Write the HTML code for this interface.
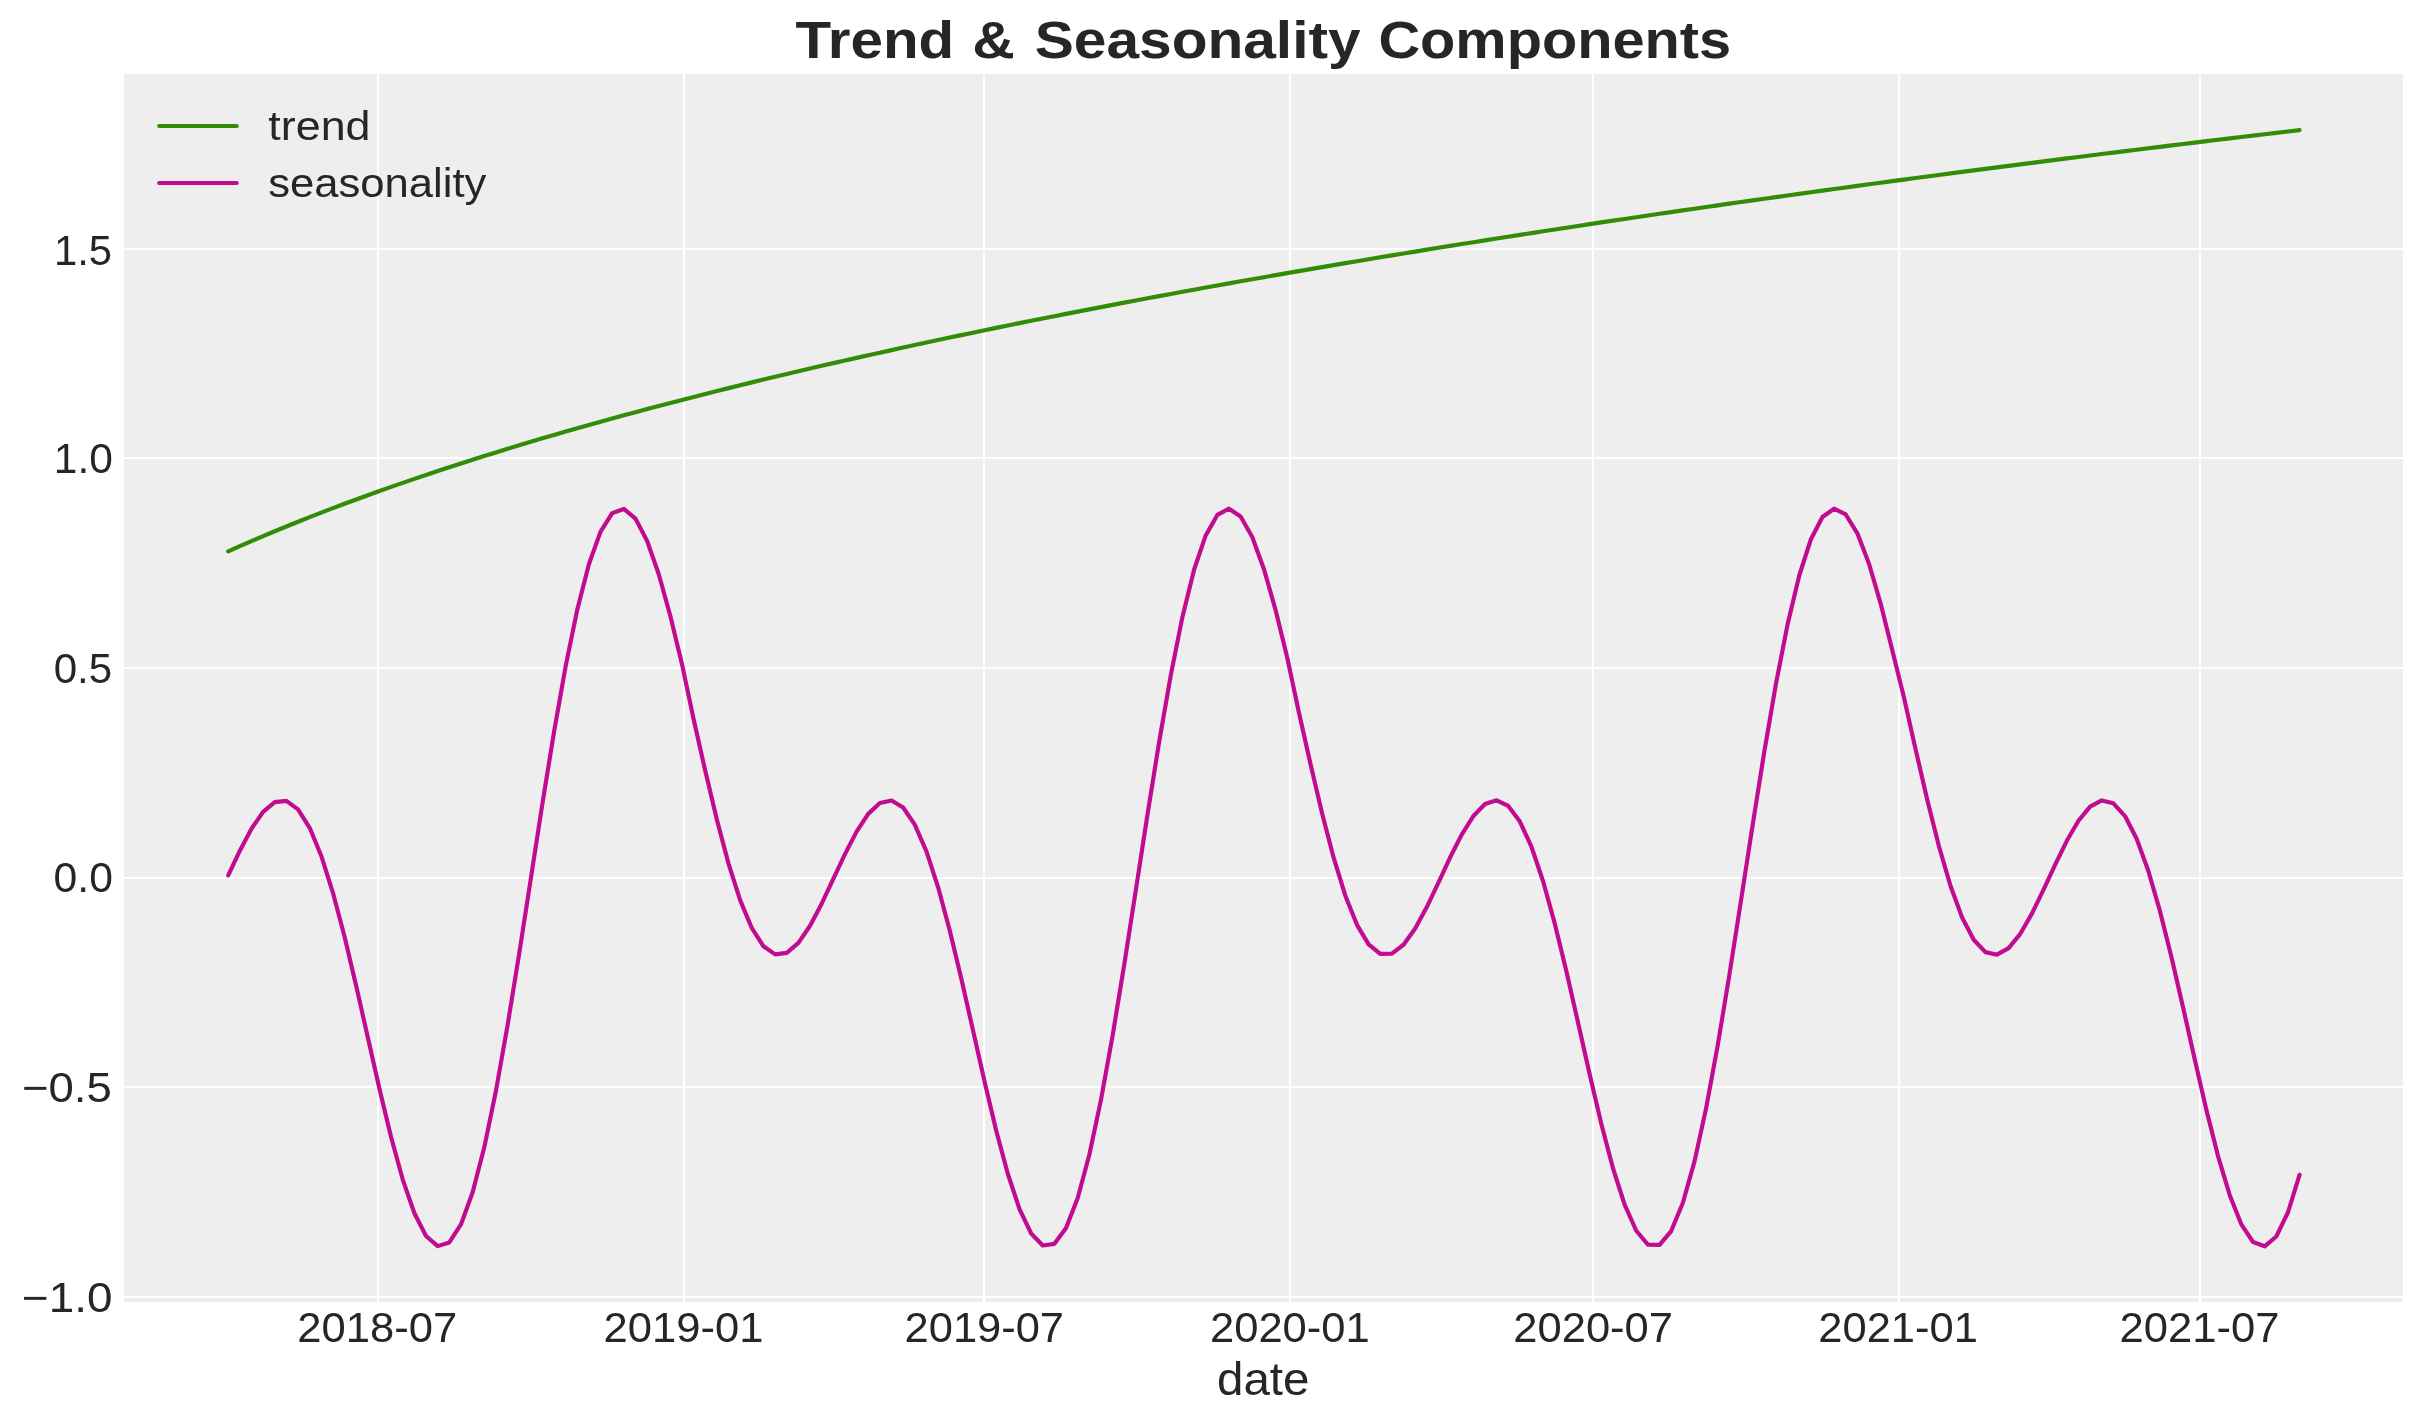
<!DOCTYPE html>
<html><head><meta charset="utf-8"><title>Trend &amp; Seasonality Components</title>
<style>
html,body{margin:0;padding:0;background:#fff;width:2423px;height:1423px;overflow:hidden}
svg{display:block}
text{will-change:transform}
text{font-family:"Liberation Sans",sans-serif;fill:#262626}
</style></head><body>
<svg width="2423" height="1423" viewBox="0 0 2423 1423">
<rect x="0" y="0" width="2423" height="1423" fill="#ffffff"/>
<rect x="124" y="74" width="2279" height="1228" fill="#eeeeee"/>
<g fill="#ffffff"><rect x="377" y="74" width="2" height="1228"/><rect x="683" y="74" width="2" height="1228"/><rect x="983" y="74" width="2" height="1228"/><rect x="1289" y="74" width="2" height="1228"/><rect x="1592" y="74" width="2" height="1228"/><rect x="1898" y="74" width="2" height="1228"/><rect x="2199" y="74" width="2" height="1228"/><rect x="124" y="248" width="2279" height="2"/><rect x="124" y="457" width="2279" height="2"/><rect x="124" y="667" width="2279" height="2"/><rect x="124" y="877" width="2279" height="2"/><rect x="124" y="1086" width="2279" height="2"/><rect x="124" y="1296" width="2279" height="2"/></g>
<polyline points="228.21,551.35 239.85,546.16 251.48,541.09 263.12,536.11 274.76,531.23 286.39,526.45 298.03,521.75 309.67,517.13 321.30,512.59 332.94,508.14 344.58,503.75 356.21,499.44 367.85,495.19 379.49,491.02 391.13,486.90 402.76,482.85 414.40,478.86 426.04,474.93 437.67,471.05 449.31,467.22 460.95,463.45 472.58,459.73 484.22,456.05 495.86,452.43 507.49,448.85 519.13,445.32 530.77,441.82 542.40,438.37 554.04,434.97 565.68,431.60 577.31,428.27 588.95,424.98 600.59,421.72 612.22,418.51 623.86,415.32 635.50,412.17 647.14,409.06 658.77,405.97 670.41,402.92 682.05,399.90 693.68,396.91 705.32,393.95 716.96,391.02 728.59,388.11 740.23,385.24 751.87,382.39 763.50,379.56 775.14,376.77 786.78,373.99 798.41,371.25 810.05,368.52 821.69,365.82 833.32,363.15 844.96,360.50 856.60,357.86 868.24,355.26 879.87,352.67 891.51,350.10 903.15,347.56 914.78,345.03 926.42,342.53 938.06,340.04 949.69,337.57 961.33,335.13 972.97,332.70 984.60,330.29 996.24,327.89 1007.88,325.52 1019.51,323.16 1031.15,320.82 1042.79,318.49 1054.42,316.19 1066.06,313.89 1077.70,311.62 1089.33,309.36 1100.97,307.11 1112.61,304.88 1124.25,302.67 1135.88,300.47 1147.52,298.28 1159.16,296.11 1170.79,293.96 1182.43,291.81 1194.07,289.68 1205.70,287.57 1217.34,285.46 1228.98,283.37 1240.61,281.30 1252.25,279.23 1263.89,277.18 1275.52,275.14 1287.16,273.11 1298.80,271.10 1310.43,269.09 1322.07,267.10 1333.71,265.12 1345.34,263.15 1356.98,261.19 1368.62,259.25 1380.26,257.31 1391.89,255.39 1403.53,253.47 1415.17,251.57 1426.80,249.67 1438.44,247.79 1450.08,245.92 1461.71,244.05 1473.35,242.20 1484.99,240.35 1496.62,238.52 1508.26,236.69 1519.90,234.88 1531.53,233.07 1543.17,231.28 1554.81,229.49 1566.44,227.71 1578.08,225.94 1589.72,224.18 1601.35,222.42 1612.99,220.68 1624.63,218.94 1636.27,217.22 1647.90,215.50 1659.54,213.78 1671.18,212.08 1682.81,210.39 1694.45,208.70 1706.09,207.02 1717.72,205.35 1729.36,203.68 1741.00,202.03 1752.63,200.38 1764.27,198.74 1775.91,197.10 1787.54,195.48 1799.18,193.86 1810.82,192.24 1822.45,190.64 1834.09,189.04 1845.73,187.45 1857.36,185.86 1869.00,184.28 1880.64,182.71 1892.28,181.15 1903.91,179.59 1915.55,178.04 1927.19,176.49 1938.82,174.95 1950.46,173.42 1962.10,171.89 1973.73,170.37 1985.37,168.86 1997.01,167.35 2008.64,165.85 2020.28,164.35 2031.92,162.86 2043.55,161.38 2055.19,159.90 2066.83,158.43 2078.46,156.96 2090.10,155.50 2101.74,154.04 2113.37,152.59 2125.01,151.15 2136.65,149.71 2148.29,148.27 2159.92,146.84 2171.56,145.42 2183.20,144.00 2194.83,142.59 2206.47,141.18 2218.11,139.78 2229.74,138.38 2241.38,136.99 2253.02,135.60 2264.65,134.22 2276.29,132.84 2287.93,131.47 2299.56,130.10" fill="none" stroke="#328c06" stroke-width="4.17" stroke-linejoin="round" stroke-linecap="round"/>
<polyline points="228.21,875.35 239.85,850.67 251.48,828.74 263.12,811.87 274.76,802.07 286.39,800.91 298.03,809.37 309.67,827.81 321.30,855.95 332.94,892.81 344.58,936.84 356.21,985.93 367.85,1037.58 379.49,1089.00 391.13,1137.28 402.76,1179.57 414.40,1213.24 426.04,1236.01 437.67,1246.13 449.31,1242.44 460.95,1224.49 472.58,1192.54 484.22,1147.57 495.86,1091.25 507.49,1025.83 519.13,954.04 530.77,878.95 542.40,803.80 554.04,731.84 565.68,666.14 577.31,609.45 588.95,564.05 600.59,531.61 612.22,513.15 623.86,508.96 635.50,518.60 647.14,540.95 658.77,574.26 670.41,616.29 682.05,664.40 693.68,719.47 705.32,771.08 716.96,820.03 728.59,863.84 740.23,900.42 751.87,928.22 763.50,946.31 775.14,954.41 786.78,952.92 798.41,942.84 810.05,925.75 821.69,903.68 833.32,878.95 844.96,854.09 856.60,831.61 868.24,813.88 879.87,802.97 891.51,800.50 903.15,807.55 914.78,824.57 926.42,851.36 938.06,887.06 949.69,930.19 961.33,978.70 972.97,1030.15 984.60,1081.78 996.24,1130.69 1007.88,1174.00 1019.51,1209.05 1031.15,1233.50 1042.79,1245.51 1054.42,1243.84 1066.06,1227.93 1077.70,1197.93 1089.33,1154.74 1100.97,1099.91 1112.61,1035.64 1124.25,964.57 1135.88,889.76 1147.52,814.42 1159.16,741.81 1170.79,675.04 1182.43,616.91 1194.07,569.77 1205.70,535.41 1217.34,514.92 1228.98,508.69 1240.61,516.41 1252.25,537.04 1263.89,568.91 1275.52,609.85 1287.16,657.26 1298.80,712.05 1310.43,763.81 1322.07,813.30 1333.71,857.98 1345.34,895.70 1356.98,924.83 1368.62,944.34 1380.26,953.86 1391.89,953.69 1403.53,944.75 1415.17,928.55 1426.80,907.05 1438.44,882.55 1450.08,857.55 1461.71,834.58 1473.35,816.04 1484.99,804.05 1496.62,800.29 1508.26,805.93 1519.90,821.53 1531.53,846.96 1543.17,881.47 1554.81,923.64 1566.44,971.53 1578.08,1022.72 1589.72,1074.50 1601.35,1123.98 1612.99,1168.26 1624.63,1204.64 1636.27,1230.73 1647.90,1244.61 1659.54,1244.94 1671.18,1231.07 1682.81,1203.05 1694.45,1161.66 1706.09,1108.38 1717.72,1045.30 1729.36,975.03 1741.00,900.55 1752.63,825.09 1764.27,751.89 1775.91,684.11 1787.54,624.59 1799.18,575.76 1810.82,539.49 1822.45,516.97 1834.09,508.71 1845.73,514.49 1857.36,533.36 1869.00,563.75 1880.64,603.54 1892.28,650.20 1903.91,697.23 1915.55,749.13 1927.19,799.55 1938.82,845.84 1950.46,885.74 1962.10,917.45 1973.73,939.78 1985.37,952.15 1997.01,954.68 2008.64,948.12 2020.28,933.82 2031.92,913.61 2043.55,889.71 2055.19,864.60 2066.83,840.80 2078.46,820.76 2090.10,806.70 2101.74,800.44 2113.37,803.32 2125.01,816.05 2136.65,838.72 2148.29,870.75 2159.92,910.92 2171.56,957.40 2183.20,1007.91 2194.83,1059.82 2206.47,1110.24 2218.11,1156.30 2229.74,1195.20 2241.38,1224.45 2253.02,1241.98 2264.65,1246.28 2276.29,1236.50 2287.93,1212.47 2299.56,1174.78" fill="none" stroke="#c10c90" stroke-width="4.17" stroke-linejoin="round" stroke-linecap="round"/>
<line x1="159.2" y1="126.0" x2="236.7" y2="126.0" stroke="#328c06" stroke-width="4.17" stroke-linecap="round"/>
<line x1="159.2" y1="183.0" x2="236.7" y2="183.0" stroke="#c10c90" stroke-width="4.17" stroke-linecap="round"/>
<text x="795.48" y="57.80" font-size="51.85" font-weight="bold" textLength="158.75" lengthAdjust="spacingAndGlyphs">Trend</text>
<text x="972.18" y="57.80" font-size="51.85" font-weight="bold" textLength="42.64" lengthAdjust="spacingAndGlyphs">&amp;</text>
<text x="1034.76" y="57.80" font-size="51.85" font-weight="bold" textLength="325.79" lengthAdjust="spacingAndGlyphs">Seasonality</text>
<text x="1378.43" y="57.80" font-size="51.85" font-weight="bold" textLength="352.72" lengthAdjust="spacingAndGlyphs">Components</text>
<text x="268.39" y="139.87" font-size="41.4" textLength="102.13" lengthAdjust="spacingAndGlyphs">trend</text>
<text x="268.16" y="197.10" font-size="41.4" textLength="218.25" lengthAdjust="spacingAndGlyphs">seasonality</text>
<text x="53.90" y="264.70" font-size="41.7" textLength="58.15" lengthAdjust="spacingAndGlyphs">1.5</text>
<text x="53.85" y="472.80" font-size="41.7" textLength="59.09" lengthAdjust="spacingAndGlyphs">1.0</text>
<text x="53.66" y="682.80" font-size="41.7" textLength="58.48" lengthAdjust="spacingAndGlyphs">0.5</text>
<text x="53.60" y="891.75" font-size="41.7" textLength="59.25" lengthAdjust="spacingAndGlyphs">0.0</text>
<text x="21.93" y="1101.76" font-size="41.7" textLength="89.81" lengthAdjust="spacingAndGlyphs">−0.5</text>
<text x="21.89" y="1311.76" font-size="41.7" textLength="90.50" lengthAdjust="spacingAndGlyphs">−1.0</text>
<text x="1217.05" y="1394.80" font-size="45.4" textLength="92.38" lengthAdjust="spacingAndGlyphs">date</text>
<text x="297.36" y="1341.96" font-size="42.0" textLength="159.89" lengthAdjust="spacingAndGlyphs">2018-07</text>
<text x="603.57" y="1341.96" font-size="42.0" textLength="159.86" lengthAdjust="spacingAndGlyphs">2019-01</text>
<text x="904.55" y="1341.96" font-size="42.0" textLength="159.47" lengthAdjust="spacingAndGlyphs">2019-07</text>
<text x="1209.97" y="1341.96" font-size="42.0" textLength="159.78" lengthAdjust="spacingAndGlyphs">2020-01</text>
<text x="1513.35" y="1341.96" font-size="42.0" textLength="159.57" lengthAdjust="spacingAndGlyphs">2020-07</text>
<text x="1818.35" y="1341.96" font-size="42.0" textLength="159.52" lengthAdjust="spacingAndGlyphs">2021-01</text>
<text x="2119.60" y="1341.96" font-size="42.0" textLength="159.94" lengthAdjust="spacingAndGlyphs">2021-07</text>
</svg>
</body></html>
